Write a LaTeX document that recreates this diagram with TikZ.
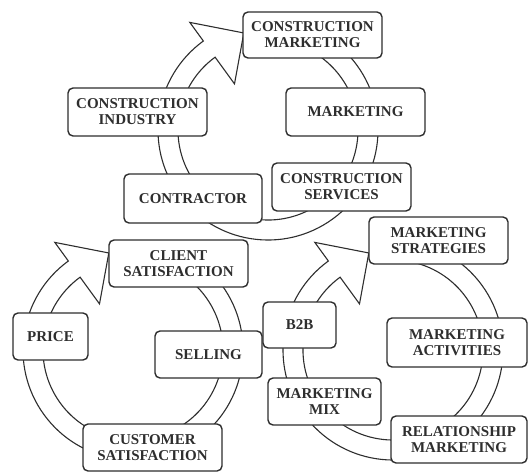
\documentclass[tikz,border=0pt]{standalone}
\usepackage{fontspec}
\setmainfont{Liberation Serif}
\definecolor{ink}{HTML}{2E2E2E}
\tikzset{
  box/.style={draw=ink, line width=1.4pt, rounded corners=5pt, fill=white, align=center,
    font=\fontsize{15}{16}\selectfont\bfseries, text=ink, inner sep=0pt},
  ring/.style={draw=ink, line width=1.1pt, fill=white, line join=miter}
}
\newcommand\cyclering[1]{%
  \draw[ring, shift={#1}] (126:110) arc[start angle=126, end angle=435, radius=110]
    -- (435:90) arc[start angle=435, end angle=126, radius=90]
    -- (126:57) -- (104:100) -- (126:133) -- cycle;}
\begin{document}
\begin{tikzpicture}[x=1pt,y=1pt]
\useasboundingbox (0,0) rectangle (529,472);
% rings with arrows
\cyclering{(268,342)}
\cyclering{(133,122)}
\cyclering{(393,122)}
% top cycle
\node[box, minimum width=139, minimum height=46] (cm) at (312.5,437) {CONSTRUCTION\\MARKETING};
\node[box, minimum width=139, minimum height=48] (ci) at (137.5,360) {CONSTRUCTION\\INDUSTRY};
\node[box, minimum width=139, minimum height=48] (mkt) at (355.5,360) {MARKETING};
\node[box, minimum width=138, minimum height=49] (con) at (193,273.5) {CONTRACTOR};
\node[box, minimum width=139, minimum height=48] (cs) at (341.5,285) {CONSTRUCTION\\SERVICES};
% left cycle
\node[box, minimum width=139, minimum height=47] (cls) at (178.5,208.5) {CLIENT\\SATISFACTION};
\node[box, minimum width=75, minimum height=47] (price) at (50.5,135.5) {PRICE};
\node[box, minimum width=107, minimum height=47] (sell) at (208.5,117.5) {SELLING};
\node[box, minimum width=139, minimum height=47] (cus) at (152.5,24.5) {CUSTOMER\\SATISFACTION};
% right cycle
\node[box, minimum width=139, minimum height=47] (ms) at (438.5,231.5) {MARKETING\\STRATEGIES};
\node[box, minimum width=73, minimum height=46] (b2b) at (299.5,147) {B2B};
\node[box, minimum width=140, minimum height=49] (ma) at (457,129.5) {MARKETING\\ACTIVITIES};
\node[box, minimum width=113, minimum height=47] (mm) at (324.5,70.5) {MARKETING\\MIX};
\node[box, minimum width=136, minimum height=47] (rm) at (459,32.5) {RELATIONSHIP\\MARKETING};
\end{tikzpicture}
\end{document}
